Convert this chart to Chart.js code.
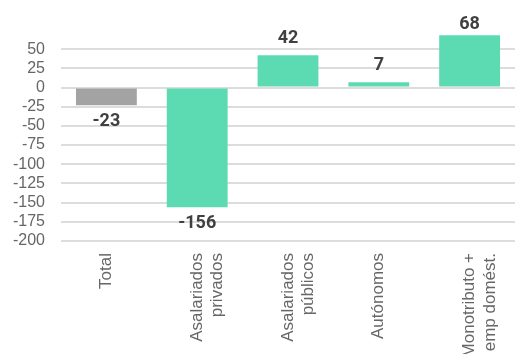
<!DOCTYPE html>
<html>
<head>
<meta charset="utf-8">
<script src="https://cdn.jsdelivr.net/npm/chart.js@4/dist/chart.umd.min.js"></script>
<style>
  html, body { margin: 0; padding: 0; background: #fff; }
  #wrap { width: 515px; height: 354px; }
</style>
</head>
<body>
<div id="wrap"><canvas id="barChart"></canvas></div>
<script>
var categories = ['Total', ['Asalariados', 'privados'], ['Asalariados', 'públicos'], 'Autónomos', ['Monotributo +', 'emp domést.']];
var values = [-23, -156, 42, 7, 68];
var barColors = ['#a3a3a3', '#5cdbb2', '#5cdbb2', '#5cdbb2', '#5cdbb2'];

// value labels over (or under) each bar, kept inside the canvas
var valueLabels = {
    id: 'valueLabels',
    afterDatasetsDraw: function (chart) {
        var ctx = chart.ctx;
        var meta = chart.getDatasetMeta(0);
        ctx.save();
        ctx.font = 'bold 18px Roboto';
        ctx.fillStyle = '#404040';
        ctx.textAlign = 'center';
        ctx.textBaseline = 'alphabetic';
        meta.data.forEach(function (bar, i) {
            var v = values[i];
            var y;
            if (v >= 0) {
                y = Math.max(bar.y - 12, 29);
            } else {
                y = bar.y + 8 + 13;
            }
            ctx.fillText(v, bar.x, y);
        });
        ctx.restore();
    }
};

var ctx = document.getElementById('barChart').getContext('2d');
var barChart = new Chart(ctx, {
    type: 'bar',
    data: {
        labels: categories,
        datasets: [{
            data: values,
            backgroundColor: barColors,
            barPercentage: 0.67,
            categoryPercentage: 1
        }]
    },
    options: {
        responsive: true,
        maintainAspectRatio: false,
        animation: false,
        layout: { padding: { top: 30, right: 0, left: 0, bottom: 0 } },
        plugins: {
            legend: { display: false },
            tooltip: { enabled: false }
        },
        scales: {
            x: {
                grid: { display: false },
                border: { display: false },
                afterFit: function (axis) { axis.height = 113; },
                ticks: {
                    color: '#666',
                    font: { family: 'Liberation Sans', size: 17 },
                    minRotation: 90,
                    maxRotation: 90,
                    autoSkip: false,
                    padding: 4
                }
            },
            y: {
                min: -200,
                max: 75,
                border: { display: false },
                grid: { color: '#dcdcdc', lineWidth: 2, drawTicks: false },
                afterFit: function (axis) { axis.width = 61; },
                afterBuildTicks: function (axis) {
                    axis.ticks = axis.ticks.filter(function (t) { return t.value <= 50; });
                },
                ticks: {
                    stepSize: 25,
                    autoSkip: false,
                    color: '#666',
                    font: { family: 'Liberation Sans', size: 16 },
                    padding: 16
                }
            }
        }
    },
    plugins: [valueLabels]
});
</script>
</body>
</html>
